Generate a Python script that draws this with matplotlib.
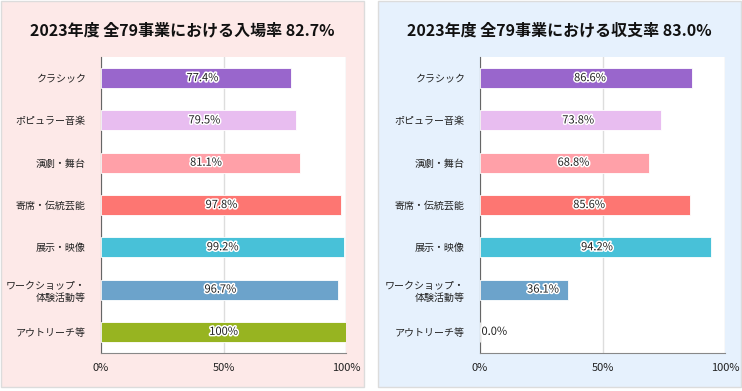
import matplotlib.pyplot as plt
import matplotlib.patheffects as pe
from matplotlib.patches import Rectangle

plt.rcParams['font.family'] = ['Noto Sans CJK JP', 'DejaVu Sans']

# データ -----------------------------
categories = ['クラシック', 'ポピュラー音楽', '演劇・舞台', '寄席・伝統芸能',
              '展示・映像', 'ワークショップ・\n体験活動等', 'アウトリーチ等']
attendance = [77.4, 79.5, 81.1, 97.8, 99.2, 96.7, 100]
attendance_labels = ['77.4%', '79.5%', '81.1%', '97.8%', '99.2%', '96.7%', '100%']
revenue = [86.6, 73.8, 68.8, 85.6, 94.2, 36.1, 0.0]
revenue_labels = ['86.6%', '73.8%', '68.8%', '85.6%', '94.2%', '36.1%', '0.0%']
title_left = '2023年度 全79事業における入場率 82.7%'
title_right = '2023年度 全79事業における収支率 83.0%'
xticks = [0, 50, 100]
xtick_labels = ['0%', '50%', '100%']

colors = ['#9966cc', '#e8bdf0', '#ffa0a8', '#fd7672', '#48c1d8', '#6ca3cb', '#97b421']

W, H = 742, 391
fig = plt.figure(figsize=(W / 100, H / 100), dpi=100)


def px(x0, y0, w, h):
    # ピクセル(左上基準) -> figure座標
    return [x0 / W, (H - y0 - h) / H, w / W, h / H]


def panel(x0, bg, title, vals, labels, ax_x):
    r = px(x0, 1, 363, 386)
    fig.patches.append(Rectangle((r[0], r[1]), r[2], r[3], transform=fig.transFigure,
                                 facecolor=bg, edgecolor='#dcdcdc', lw=1, zorder=-5))
    fig.text(r[0] + r[2] / 2, 1 - 30 / H, title, ha='center', va='center',
             fontsize=11.5, fontweight='bold', color='#111111')

    ax = fig.add_axes(px(ax_x, 57, 245, 296))
    ax.set_zorder(2)
    ax.set_facecolor('white')
    ypos = list(range(len(categories)))
    ax.barh(ypos, vals, height=0.47, color=colors, edgecolor='white', lw=0.6, zorder=3)
    ax.set_xlim(0, 100)
    ax.set_ylim(len(categories) - 0.5, -0.5)
    ax.set_yticks(ypos)
    ax.set_yticklabels(categories, fontsize=7.2, color='#222222', ha='right',
                       linespacing=1.25)
    ax.set_xticks(xticks)
    ax.set_xticklabels(xtick_labels, fontsize=8, color='#222222')
    ax.tick_params(length=0, axis='y', pad=11)
    ax.tick_params(length=0, axis='x', pad=7)
    ax.xaxis.grid(True, color='#dddddd', lw=1, zorder=0)
    ax.set_axisbelow(True)
    for s in ['top', 'right']:
        ax.spines[s].set_visible(False)
    ax.spines['left'].set_color('#666666')
    ax.spines['bottom'].set_color('#888888')

    stroke = [pe.withStroke(linewidth=2.2, foreground='white')]
    for y, v, lab in zip(ypos, vals, labels):
        if v > 0:
            xl = v / 2 + (100 - v) * 0.12
            ax.text(xl, y, lab, ha='center', va='center', fontsize=8,
                    color='#222222', path_effects=stroke, zorder=4)
        else:
            ax.text(0.6, y, lab, ha='left', va='center', fontsize=8,
                    color='#222222', path_effects=stroke, zorder=4)
    return ax


panel(1, '#fde9e8', title_left, attendance, attendance_labels, 101)
panel(378, '#e6f1fd', title_right, revenue, revenue_labels, 480)

plt.savefig('out.png', dpi=100)
